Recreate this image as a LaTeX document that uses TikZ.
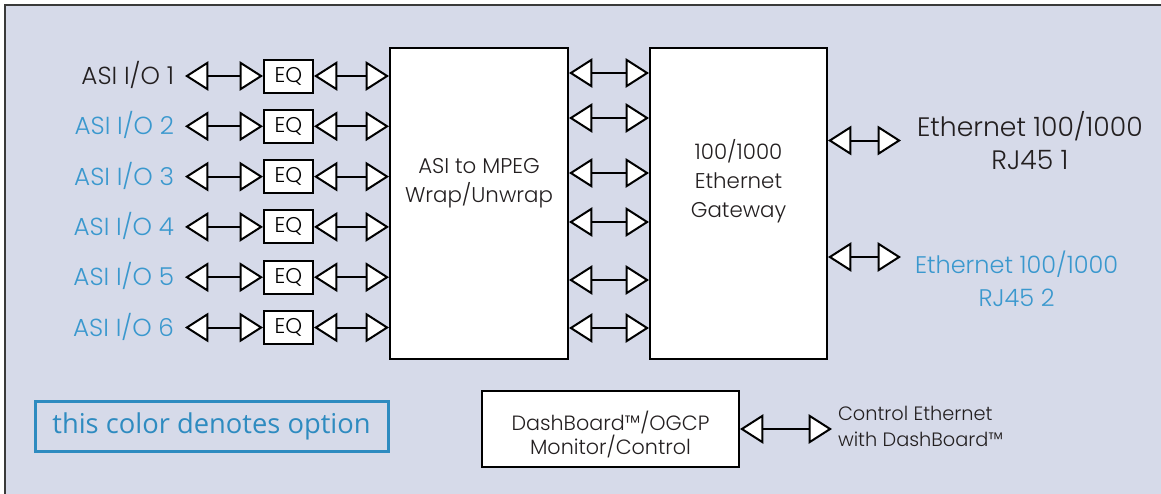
\documentclass[tikz,border=0pt]{standalone}
\usepackage{fontspec}
\IfFontExistsTF{Poppins Light}{\setmainfont{Poppins Light}}{\setmainfont{Poppins}}
\newfontfamily\legfont{Open Sans}
\usetikzlibrary{arrows.meta}
\definecolor{bgblue}{HTML}{D6DAE9}
\definecolor{optblue}{HTML}{3A98CE}
\definecolor{legline}{HTML}{2E8BC0}
\definecolor{ink}{HTML}{231F20}
\definecolor{frame}{HTML}{3A3A3A}
\begin{document}
\begin{tikzpicture}[x=0.75pt,y=-0.75pt,line width=1.5pt,
    io/.style={{Triangle[fill=white,length=17.5pt,width=22pt]}-{Triangle[fill=white,length=17.5pt,width=22pt]}},
    blk/.style={draw=black,fill=white,line width=1.5pt,inner sep=0pt},
    eq/.style={blk,minimum width=36.75pt,minimum height=24.75pt,font=\fontsize{16}{18}\selectfont},
    lab/.style={anchor=east,inner xsep=7.5pt,inner ysep=0pt,text height=13pt,text depth=0pt,text=optblue,font=\fontsize{18.5}{24}\selectfont},
    txt/.style={align=center,text=ink,inner sep=0pt}]
    \useasboundingbox(0,0)rectangle(1161,493);\clip(0,0)rectangle(1161,493);
    \draw[fill=bgblue,draw=frame](5,5)rectangle(1180,510);
    % main blocks
    \node[blk,minimum width=133.5pt,minimum height=233.25pt](mpeg)at(479,203){};
    \node[txt,font=\fontsize{16}{21.75}\selectfont](mpegt)at(479,183.5){ASI to MPEG\\Wrap/Unwrap};
    \node[blk,minimum width=132.75pt,minimum height=233.25pt](gw)at(738.5,203){};
    \node[txt,font=\fontsize{16}{21.75}\selectfont](gwt)at(738.5,181){100/1000\\Ethernet\\Gateway};
    % ASI inputs
    \node[lab,text=ink](l1)at(185,76){ASI I/O 1};\node[eq](q1)at(288.5,76){EQ};
    \node[lab](l2)at(185,126.3){ASI I/O 2};\node[eq](q2)at(288.5,126.3){EQ};
    \node[lab](l3)at(185,176.6){ASI I/O 3};\node[eq](q3)at(288.5,176.6){EQ};
    \node[lab](l4)at(185,226.9){ASI I/O 4};\node[eq](q4)at(288.5,226.9){EQ};
    \node[lab](l5)at(185,277.2){ASI I/O 5};\node[eq](q5)at(288.5,277.2){EQ};
    \node[lab](l6)at(185,327.5){ASI I/O 6};\node[eq](q6)at(288.5,327.5){EQ};
    \draw[io](l1.east)--(q1.west);\draw[io](q1.east)--(q1.east-|mpeg.west);
    \draw[io](l2.east)--(q2.west);\draw[io](q2.east)--(q2.east-|mpeg.west);
    \draw[io](l3.east)--(q3.west);\draw[io](q3.east)--(q3.east-|mpeg.west);
    \draw[io](l4.east)--(q4.west);\draw[io](q4.east)--(q4.east-|mpeg.west);
    \draw[io](l5.east)--(q5.west);\draw[io](q5.east)--(q5.east-|mpeg.west);
    \draw[io](l6.east)--(q6.west);\draw[io](q6.east)--(q6.east-|mpeg.west);
    % wrap to gateway
    \draw[io](mpeg.east|-0,73)--(gw.west|-0,73);
    \draw[io](mpeg.east|-0,118)--(gw.west|-0,118);
    \draw[io](mpeg.east|-0,173)--(gw.west|-0,173);
    \draw[io](mpeg.east|-0,222)--(gw.west|-0,222);
    \draw[io](mpeg.east|-0,280)--(gw.west|-0,280);
    \draw[io](mpeg.east|-0,328)--(gw.west|-0,328);
    % ethernet ports
    \node[txt,anchor=west,inner xsep=11.25pt,font=\fontsize{20}{24.75}\selectfont](e1)at(901,140.5){Ethernet 100/1000\\RJ45 1};
    \draw[io](gw.east|-e1.west)--(e1.west);
    \coordinate(e2a)at(901,257);
    \node[txt,anchor=west,inner xsep=9.75pt,text=optblue,font=\fontsize{18}{24.75}\selectfont](e2)at(901,278.5){Ethernet 100/1000\\RJ45 2};
    \draw[io](gw.east|-e2a)--(e2a);
    % control
    \node[blk,minimum width=192.75pt,minimum height=57pt](dash)at(610.5,429){};
    \node[txt,font=\fontsize{15.5}{18}\selectfont](dasht)at(610.5,434){DashBoard™/OGCP\\Monitor/Control};
    \node[txt,anchor=west,align=left,inner xsep=3.75pt,font=\fontsize{14.5}{19.5}\selectfont](ctl)at(832,426){Control Ethernet\\ with DashBoard™};
    \draw[io](dash.east)--(dash.east-|ctl.west);
    % legend
    \node[draw=legline,line width=2.25pt,minimum width=264.75pt,minimum height=37.5pt,text=legline,font=\legfont\fontsize{20.5}{24}\selectfont](leg)at(211.5,426){this color denotes option};
\end{tikzpicture}
\end{document}
